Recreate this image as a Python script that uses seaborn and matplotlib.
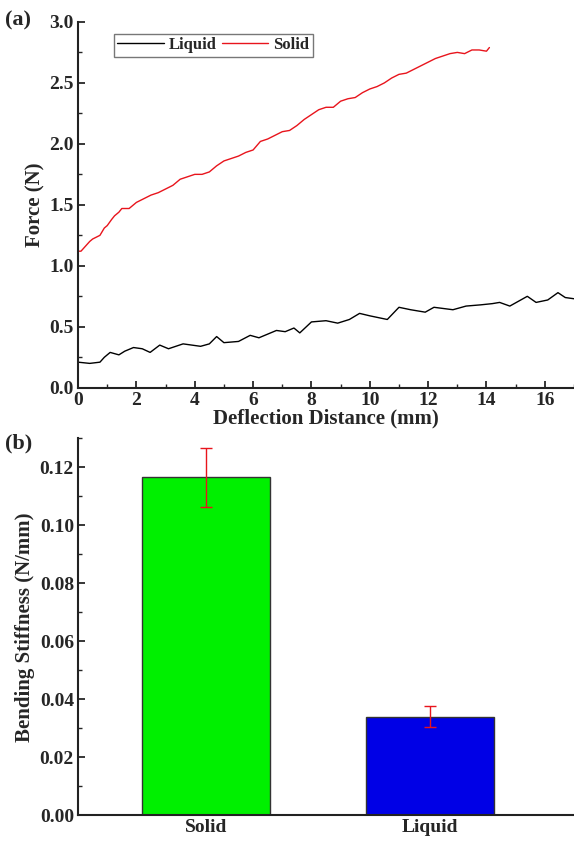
import numpy as np
import pandas as pd
import matplotlib
matplotlib.use("Agg")
import matplotlib.pyplot as plt
import seaborn as sns
from matplotlib.ticker import MultipleLocator

# (a) force vs deflection
solid_x = [0.0, 0.1, 0.25, 0.4, 0.5, 0.75, 0.9, 1.0, 1.15, 1.25, 1.4, 1.5, 1.75, 2.0, 2.25, 2.5, 2.75,
           3.0, 3.25, 3.5, 3.75, 4.0, 4.25, 4.5, 4.75, 5.0, 5.25, 5.5, 5.75, 6.0, 6.25, 6.5,
           6.75, 7.0, 7.25, 7.5, 7.75, 8.0, 8.25, 8.5, 8.75, 9.0, 9.25, 9.5, 9.75, 10.0,
           10.25, 10.5, 10.75, 11.0, 11.25, 11.5, 11.75, 12.0, 12.25, 12.5, 12.75, 13.0,
           13.25, 13.5, 13.75, 14.0, 14.1]
solid_f = [1.12, 1.12, 1.16, 1.20, 1.22, 1.25, 1.31, 1.33, 1.38, 1.41, 1.44, 1.47, 1.47, 1.52, 1.55, 1.58, 1.60,
           1.63, 1.66, 1.71, 1.73, 1.75, 1.75, 1.77, 1.82, 1.86, 1.88, 1.90, 1.93, 1.95, 2.02, 2.04,
           2.07, 2.10, 2.11, 2.15, 2.20, 2.24, 2.28, 2.30, 2.30, 2.35, 2.37, 2.38, 2.42, 2.45,
           2.47, 2.50, 2.54, 2.57, 2.58, 2.61, 2.64, 2.67, 2.70, 2.72, 2.74, 2.75,
           2.74, 2.77, 2.77, 2.76, 2.79]

liquid_x = [0.0, 0.4, 0.75, 0.9, 1.1, 1.4, 1.6, 1.9, 2.2, 2.47, 2.8, 3.1, 3.6, 4.2, 4.5, 4.75,
            5.0, 5.5, 5.9, 6.2, 6.5, 6.8, 7.1, 7.4, 7.6, 8.0, 8.5, 8.9, 9.3, 9.65, 10.0,
            10.6, 11.0, 11.4, 11.9, 12.2, 12.85, 13.3, 13.8, 14.2, 14.45, 14.8, 15.1,
            15.4, 15.7, 16.1, 16.45, 16.7, 17.0]
liquid_f = [0.21, 0.20, 0.21, 0.25, 0.29, 0.27, 0.30, 0.33, 0.32, 0.29, 0.35, 0.32, 0.36, 0.34, 0.36, 0.42,
            0.37, 0.38, 0.43, 0.41, 0.44, 0.47, 0.46, 0.49, 0.45, 0.54, 0.55, 0.53, 0.56, 0.61, 0.59,
            0.56, 0.66, 0.64, 0.62, 0.66, 0.64, 0.67, 0.68, 0.69, 0.70, 0.67, 0.71,
            0.75, 0.70, 0.72, 0.78, 0.74, 0.73]

# (b) bending stiffness
materials = ["Solid", "Liquid"]
stiffness = [0.1165, 0.034]
stiffness_err = [0.0103, 0.0035]
bar_colors = ["#00f000", "#0000e6"]

sns.set_style("ticks")
plt.rcParams["font.family"] = ["Liberation Serif", "DejaVu Serif"]
plt.rcParams["font.weight"] = "bold"
plt.rcParams["axes.labelweight"] = "bold"

fig = plt.figure(figsize=(5.74, 8.43), dpi=100)
ax1 = fig.add_axes([0.136, 0.540, 0.864, 0.434])
ax2 = fig.add_axes([0.136, 0.033, 0.864, 0.447])

solid_df = pd.DataFrame({"x": solid_x, "F": solid_f})
liquid_df = pd.DataFrame({"x": liquid_x, "F": liquid_f})
sns.lineplot(data=liquid_df, x="x", y="F", color="black", lw=1.0, label="Liquid", ax=ax1)
sns.lineplot(data=solid_df, x="x", y="F", color="#e8141c", lw=1.0, label="Solid", ax=ax1)

ax1.set_xlim(0, 17)
ax1.set_ylim(0, 3.0)
ax1.xaxis.set_major_locator(MultipleLocator(2))
ax1.xaxis.set_minor_locator(MultipleLocator(1))
ax1.yaxis.set_minor_locator(MultipleLocator(0.25))
ax1.set_yticks(np.arange(0, 3.01, 0.5))
ax1.set_yticklabels([f"{v:.1f}" for v in np.arange(0, 3.01, 0.5)])
ax1.set_xlabel("Deflection Distance (mm)", fontsize=15, labelpad=0)
ax1.set_ylabel("Force (N)", fontsize=15, labelpad=3)
leg = ax1.legend(loc="upper left", bbox_to_anchor=(0.055, 0.99), ncol=2, frameon=True,
                 fancybox=False, handlelength=2.8, handletextpad=0.3, columnspacing=0.3,
                 borderpad=0.2, prop={"weight": "bold", "size": 12})
leg.get_frame().set_edgecolor("#555555")
leg.get_frame().set_linewidth(1.0)

bar_df = pd.DataFrame({"material": materials, "stiffness": stiffness})
sns.barplot(data=bar_df, x="material", y="stiffness", hue="material", palette=bar_colors,
            saturation=1, width=0.57, edgecolor="#333333", linewidth=1.0, legend=False,
            errorbar=None, ax=ax2)
ax2.errorbar(x=[0, 1], y=stiffness, yerr=stiffness_err, fmt="none", ecolor="#e8141c",
             elinewidth=1.0, capsize=4, capthick=1.0)
ax2.set_xlim(-0.57, 1.64)
ax2.set_ylim(0, 0.13)
ax2.yaxis.set_minor_locator(MultipleLocator(0.01))
ax2.set_yticks(np.arange(0, 0.121, 0.02))
ax2.set_yticklabels([f"{v:.2f}" for v in np.arange(0, 0.121, 0.02)])
ax2.set_xlabel("")
ax2.set_ylabel("Bending Stiffness (N/mm)", fontsize=15, labelpad=3)

for ax in (ax1, ax2):
    for side in ("top", "right"):
        ax.spines[side].set_visible(False)
    for side in ("left", "bottom"):
        ax.spines[side].set_linewidth(1.5)
        ax.spines[side].set_color("#222222")
    ax.tick_params(which="major", direction="in", length=5, width=1.3, labelsize=14, pad=3)
    ax.tick_params(which="minor", direction="in", length=3, width=1.0)
    for lab in ax.get_xticklabels() + ax.get_yticklabels():
        lab.set_fontweight("bold")
ax2.tick_params(axis="x", which="both", length=0, pad=3, labelsize=14)

fig.text(0.008, 0.970, "(a)", fontsize=16, fontweight="bold")
fig.text(0.008, 0.468, "(b)", fontsize=16, fontweight="bold")

fig.savefig("out.png", dpi=100)
